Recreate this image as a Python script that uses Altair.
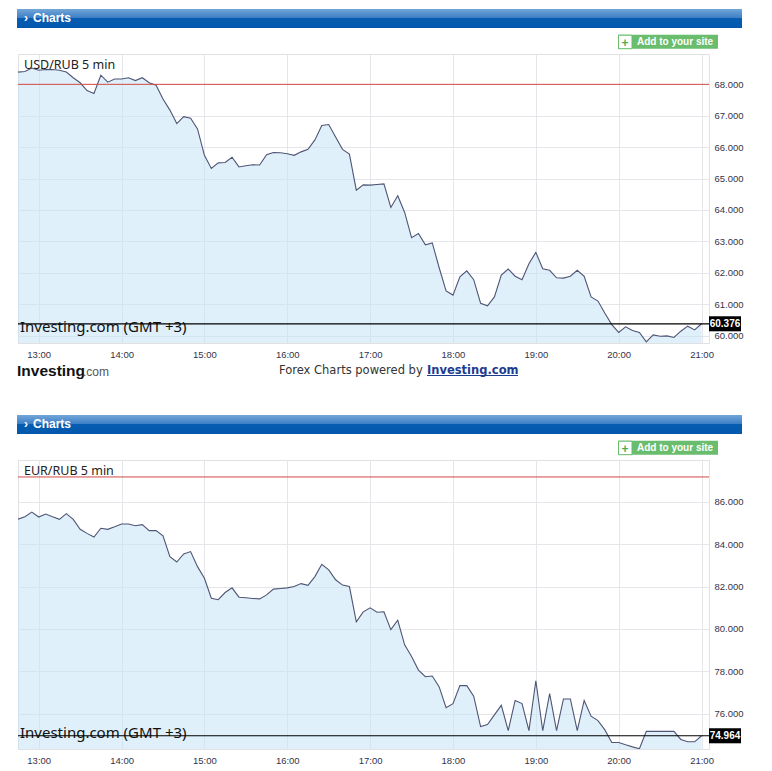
import altair as alt
import pandas as pd

# 5-minute closes, 12:45 .. 21:00 (GMT+3)
START_HOUR = 12.75
STEP_HOURS = 5 / 60
HOURS = [13, 14, 15, 16, 17, 18, 19, 20, 21]

usd_rub = [
    68.39, 68.41, 68.52, 68.45, 68.47, 68.47, 68.45, 68.39, 68.21, 68.05,
    67.80, 67.71, 68.29, 68.07, 68.17, 68.17, 68.21, 68.12, 68.21, 68.05,
    67.97, 67.53, 67.18, 66.75, 66.97, 66.92, 66.58, 65.74, 65.32, 65.50,
    65.51, 65.68, 65.37, 65.41, 65.44, 65.43, 65.76, 65.83, 65.82, 65.79,
    65.74, 65.85, 65.93, 66.23, 66.69, 66.72, 66.32, 65.93, 65.78, 64.63,
    64.80, 64.79, 64.81, 64.83, 64.08, 64.45, 63.92, 63.12, 63.25, 62.89,
    62.95, 62.16, 61.42, 61.29, 61.87, 62.06, 61.78, 61.03, 60.95, 61.23,
    61.93, 62.12, 61.89, 61.78, 62.29, 62.65, 62.13, 62.08, 61.84, 61.83,
    61.89, 62.08, 61.89, 61.23, 61.10, 60.71, 60.35, 60.10, 60.28, 60.16,
    60.10, 59.80, 60.02, 59.98, 59.99, 59.94, 60.14, 60.30, 60.18, 60.376,
]

eur_rub = [
    85.18, 85.29, 85.51, 85.28, 85.42, 85.29, 85.17, 85.44, 85.17, 84.70,
    84.51, 84.34, 84.75, 84.70, 84.82, 84.95, 84.95, 84.87, 84.92, 84.64,
    84.64, 84.39, 83.41, 83.16, 83.54, 83.65, 82.94, 82.39, 81.45, 81.38,
    81.72, 81.94, 81.50, 81.47, 81.44, 81.42, 81.61, 81.88, 81.91, 81.94,
    82.00, 82.14, 82.06, 82.47, 83.05, 82.79, 82.32, 82.07, 82.00, 80.34,
    80.81, 81.00, 80.79, 80.81, 79.97, 80.41, 79.25, 78.70, 78.06, 77.75,
    77.78, 77.27, 76.29, 76.48, 77.33, 77.33, 76.83, 75.40, 75.49, 75.95,
    76.40, 75.21, 76.63, 76.48, 75.21, 77.56, 75.21, 76.95, 75.21, 76.70,
    76.70, 75.21, 76.63, 75.89, 75.68, 75.24, 74.65, 74.65, 74.54, 74.44,
    74.35, 75.17, 75.17, 75.17, 75.17, 75.17, 74.79, 74.68, 74.68, 74.964,
]

usd_ticks = [60, 61, 62, 63, 64, 65, 66, 67, 68]
eur_ticks = [76, 78, 80, 82, 84, 86]

W, H = 691, 289
UI_FONT = "Noto Sans"
AXIS_FONT = "Liberation Sans"
ONE = pd.DataFrame({"k": [0]})


def text(label, x, y, size, color="#222", weight="normal", font=UI_FONT, align="left"):
    return (
        alt.Chart(ONE)
        .mark_text(text=label, fontSize=size, color=color, fontWeight=weight,
                   font=font, align=align, baseline="alphabetic")
        .encode(x=alt.value(x), y=alt.value(y))
    )


def box(x, x2, y, y2, **style):
    return (
        alt.Chart(ONE)
        .mark_rect(**style)
        .encode(x=alt.value(x), x2=alt.value(x2), y=alt.value(y), y2=alt.value(y2))
    )


header_fill = alt.Gradient(
    gradient="linear",
    stops=[
        alt.GradientStop(color="#72a6d8", offset=0),
        alt.GradientStop(color="#3b7dc5", offset=0.48),
        alt.GradientStop(color="#075db0", offset=0.5),
        alt.GradientStop(color="#0058ad", offset=1),
    ],
    x1=0, x2=0, y1=0, y2=1,
)


def panel(pair, values, last, prev_close, y_min, y_max, y_ticks, footer):
    df = pd.DataFrame({
        "hour": [START_HOUR + i * STEP_HOURS for i in range(len(values))],
        "rate": values,
    })
    x = alt.X(
        "hour:Q",
        scale=alt.Scale(domain=[12.75, 21.09], nice=False, zero=False),
        axis=alt.Axis(values=HOURS, labelExpr="datum.value + ':00'", title=None,
                      ticks=False, domain=False, labelPadding=6, labelFlush=False),
    )
    y_scale = alt.Scale(domain=[y_min, y_max], nice=False, zero=False)
    y_axis = alt.Axis(orient="right", values=y_ticks, format=".3f", title=None,
                      ticks=False, domain=False, labelPadding=5, labelAlign="left",
                      labelOverlap=False, tickCount=len(y_ticks))
    y = alt.Y("rate:Q", scale=y_scale, axis=y_axis)

    def at(v):
        return alt.YDatum(v, scale=y_scale, axis=y_axis)

    base = alt.Chart(df).encode(x=x)
    area = base.mark_area(color="#c1e1f7", opacity=0.5, clip=True).encode(
        y=y, y2=alt.datum(y_min)
    )
    line = base.mark_line(color="#4f5574", strokeWidth=1.1, clip=True).encode(y=y)

    close_rule = alt.Chart(ONE).mark_rule(color="#d24a44", strokeWidth=1).encode(
        x=alt.value(0), x2=alt.value(W), y=at(prev_close)
    )
    last_rule = alt.Chart(ONE).mark_rule(color="#000000", strokeWidth=1.2).encode(
        x=alt.value(0), x2=alt.value(W), y=at(last)
    )
    last_box = alt.Chart(ONE).mark_point(
        shape="M-1,-0.47L1,-0.47L1,0.47L-1,0.47Z", size=1024, filled=True,
        color="#000000", opacity=1, strokeWidth=0,
    ).encode(x=alt.value(W + 16), y=at(last))
    last_label = alt.Chart(ONE).mark_text(
        text=f"{last:.3f}", color="white", fontWeight="bold", fontSize=10,
        font=AXIS_FONT, align="center", baseline="middle",
    ).encode(x=alt.value(W + 16), y=at(last))

    layers = [
        area, line, close_rule,
        text(pair, 6, 15, 12.5),
        text("Investing.com (GMT +3)", 2, 278, 15, color="#111"),
        last_rule, last_box, last_label,
        # blue "Charts" header
        box(-1, 724, -45, -26, color=header_fill),
        text("›", 6, -32.5, 12, color="white", weight="bold", font=AXIS_FONT),
        text("Charts", 15, -32.3, 12, color="white", weight="bold", font=AXIS_FONT),
        # "Add to your site" button
        box(600, 700, -19.3, -5.3, color="#69bd6d"),
        box(600.5, 614, -18.8, -5.3, fill="white", stroke="#69bd6d", strokeWidth=1),
        text("+", 607, -7, 12, color="#4caf50", weight="bold", font=AXIS_FONT, align="center"),
        text("Add to your site", 619, -8.7, 10, color="white", weight="bold", font=AXIS_FONT),
    ]
    if footer:
        layers += [
            text("Investing", -1, 322.2, 15.5, color="#111", weight="bold", font=AXIS_FONT),
            text(".com", 65, 322.2, 12, color="#555", font=AXIS_FONT),
            text("Forex Charts powered by", 261, 319.5, 11.5, color="#333", font="DejaVu Sans"),
            text("Investing.com", 409, 319.5, 11.5, color="#1d3c8f", weight="bold", font="DejaVu Sans"),
            alt.Chart(ONE).mark_rule(color="#1d3c8f", strokeWidth=1).encode(
                x=alt.value(409), x2=alt.value(500), y=alt.value(321.5)
            ),
            alt.Chart(ONE).mark_rule(color="white", strokeWidth=1).encode(
                x=alt.value(0), x2=alt.value(1), y=alt.value(359)
            ),
        ]
    return alt.layer(*layers).properties(width=W, height=H)


top = panel("USD/RUB 5 min", usd_rub, 60.376, 68.0, 59.764, 68.966, usd_ticks, True)
bottom = panel("EUR/RUB 5 min", eur_rub, 74.964, 87.17, 74.34, 87.97, eur_ticks, False)

chart = (
    alt.vconcat(top, bottom, spacing=0)
    .properties(padding={"left": 8, "top": 0, "right": 0, "bottom": 0}, background="white")
    .configure_view(stroke="#e1e1e4", strokeWidth=1)
    .configure_axis(
        gridColor="#e6e6ea", gridWidth=1, labelFont=AXIS_FONT, labelFontSize=9.5,
        labelColor="#33334a",
    )
)

chart.save("out.html", embed_options={"renderer": "svg", "actions": False})
